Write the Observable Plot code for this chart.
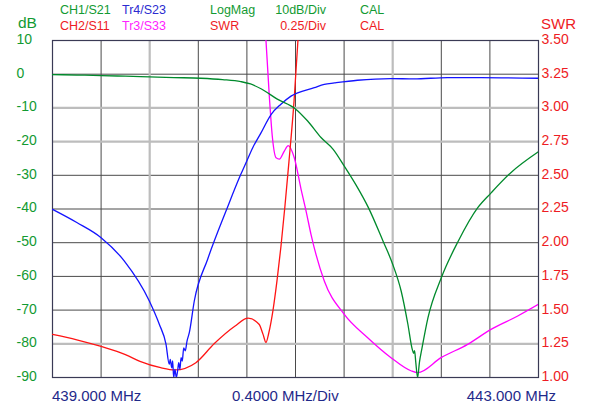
<!DOCTYPE html>
<html>
<head>
<meta charset="utf-8">
<script src="https://cdn.jsdelivr.net/npm/d3@7"></script>
<script src="https://cdn.jsdelivr.net/npm/@observablehq/plot@0.6"></script>
<style>
body{margin:0;background:#fff;font-family:Arial,"Liberation Sans",sans-serif}
#wrap{position:relative;width:600px;height:405px;overflow:hidden}
#wrap svg{position:absolute;left:0;top:0}
.lab{position:absolute;line-height:1;white-space:nowrap}
</style>
</head>
<body>
<div id="wrap"></div>
<script>
// ---- data ----
const gridFreqs = [439.0, 439.4, 439.8, 440.2, 440.6, 441.0, 441.4, 441.8, 442.2, 442.6, 443.0];
const dbTicks = [10, 0, -10, -20, -30, -40, -50, -60, -70, -80, -90];
const swrTicks = [3.50, 3.25, 3.00, 2.75, 2.50, 2.25, 2.00, 1.75, 1.50, 1.25, 1.00];
const headerRow1 = ["CH1/S21", "Tr4/S23", "LogMag", "10dB/Div", "CAL"];
const headerRow2 = ["CH2/S11", "Tr3/S33", "SWR", "0.25/Div", "CAL"];
const leftUnit = "dB";
const rightUnit = "SWR";
const bottomLabels = ["439.000 MHz", "0.4000 MHz/Div", "443.000 MHz"];

// CH1/S21 (dB)
const s21Freq = [439.0, 439.2, 439.4, 439.6, 439.8, 440.0, 440.22, 440.4, 440.55, 440.63, 440.72, 440.85, 441.0, 441.1, 441.21, 441.31, 441.4, 441.5, 441.6, 441.72, 441.8, 441.87, 441.925, 441.96, 441.972, 441.98, 441.99, 442.005, 442.02, 442.04, 442.09, 442.2, 442.34, 442.5, 442.61, 442.77, 443.0];
const s21dB   = [-0.1, -0.25, -0.4, -0.6, -0.8, -1.0, -1.2, -1.6, -2.2, -2.9, -4.4, -7.4, -10.3, -13.9, -18.8, -22.3, -27.2, -33.0, -39.6, -49.5, -56.4, -64.4, -74.2, -81.5, -82.8, -82.0, -85.5, -90, -85.5, -81.5, -72.3, -60.4, -49.5, -39.6, -35.2, -29.3, -23.0];

// Tr4/S23 (dB)
const s23Freq = [439.0, 439.2, 439.4, 439.59, 439.797, 439.879, 439.934, 439.961, 439.969, 439.981, 439.989, 439.997, 440.008, 440.019, 440.030, 440.039, 440.049, 440.058, 440.068, 440.080, 440.093, 440.107, 440.126, 440.167, 440.277, 440.428, 440.55, 440.59, 440.648, 440.716, 440.8, 440.88, 440.963, 441.155, 441.237, 441.32, 441.51, 441.786, 441.975, 442.25, 442.527, 443.0];
const s23dB   = [-40.1, -44.0, -48.5, -55.4, -67.3, -74.2, -80.1, -86.1, -84.6, -87.1, -85.1, -90, -87.6, -90, -88.0, -85.6, -87.6, -84.1, -85.1, -81.2, -82.1, -79.2, -76.7, -67.3, -54.9, -40.6, -29.7, -26.5, -21.8, -17.4, -11.9, -8.9, -6.5, -4.0, -3.0, -2.6, -1.8, -1.3, -1.4, -1.0, -1.0, -1.2];

// CH2/S11 (SWR)
const s11Freq = [439.0, 439.2, 439.4, 439.6, 439.72, 439.89, 440.01, 440.18, 440.33, 440.5, 440.61, 440.7, 440.733, 440.757, 440.78, 440.815, 440.848, 440.88, 440.913, 440.946, 440.988, 441.02, 441.045];
const s11SWR  = [1.32, 1.28, 1.23, 1.17, 1.12, 1.073, 1.056, 1.11, 1.25, 1.38, 1.44, 1.395, 1.32, 1.26, 1.33, 1.50, 1.72, 1.97, 2.27, 2.60, 3.05, 3.50, 3.80];

// Tr3/S33 (SWR)
const s33Freq = [440.72, 440.757, 440.785, 440.81, 440.84, 440.867, 440.908, 440.94, 440.99, 441.045, 441.087, 441.128, 441.237, 441.40, 441.594, 441.786, 441.95, 442.006, 442.198, 442.417, 442.609, 442.829, 443.0];
const s33SWR  = [4.20, 3.50, 3.08, 2.78, 2.63, 2.62, 2.68, 2.72, 2.63, 2.40, 2.235, 2.06, 1.716, 1.47, 1.295, 1.147, 1.05, 1.036, 1.147, 1.246, 1.357, 1.456, 1.543];

// ---- helpers ----
const swrToDb = s => -90 + (s - 1) * 40;   // maps right axis onto left scale
const GREEN_T = "#129a32", RED_T = "#ee1c24", BLUE_T = "#2b2bd0", MAG_T = "#ff22ff", NAVY_T = "#1f2a8a";
const dbRows = (f, v) => f.map((x, i) => ({f: x, v: v[i]}));
const swrRows = (f, v) => f.map((x, i) => ({f: x, v: swrToDb(v[i])}));
const emphY = d => d === -10 || d === -20 || d === -80;
const emphX = d => Math.abs(d - 439.8) < 1e-6 || Math.abs(d - 441.8) < 1e-6;

const chart = Plot.plot({
  width: 600, height: 405,
  marginTop: 40, marginBottom: 28, marginLeft: 52, marginRight: 62,
  style: {background: "transparent", fontFamily: "Arial, 'Liberation Sans', sans-serif"},
  x: {domain: [439, 443], axis: null},
  y: {domain: [-90, 10], axis: null},
  marks: [
    Plot.ruleY(dbTicks.filter(d => !emphY(d)), {stroke: "#4a4a4a", strokeWidth: 1}),
    Plot.ruleX(gridFreqs.filter(d => !emphX(d)), {stroke: "#4a4a4a", strokeWidth: 1}),
    Plot.ruleY(dbTicks.filter(emphY), {stroke: "#bdbdbd", strokeWidth: 2.2}),
    Plot.ruleX(gridFreqs.filter(emphX), {stroke: "#bdbdbd", strokeWidth: 2.2}),
    Plot.frame({stroke: "#3a3a55", strokeWidth: 1.2}),
    Plot.line(swrRows(s33Freq, s33SWR), {x: "f", y: "v", stroke: "#ff00ff", strokeWidth: 1.3, curve: "monotone-x", clip: true}),
    Plot.line(swrRows(s11Freq, s11SWR), {x: "f", y: "v", stroke: "#ff1414", strokeWidth: 1.3, curve: "monotone-x", clip: true}),
    Plot.line(dbRows(s23Freq, s23dB), {x: "f", y: "v", stroke: "#1414ff", strokeWidth: 1.3, curve: "monotone-x", clip: true}),
    Plot.line(dbRows(s21Freq, s21dB), {x: "f", y: "v", stroke: "#008a2c", strokeWidth: 1.3, curve: "monotone-x", clip: true}),
    Plot.text(dbTicks, {y: d => d, text: d => String(d), frameAnchor: "left", dx: -36, dy: -1, textAnchor: "start", fill: GREEN_T, fontSize: 14}),
    Plot.text(swrTicks, {y: d => swrToDb(d), text: d => d.toFixed(2), frameAnchor: "right", dx: 3, dy: -1, textAnchor: "start", fill: RED_T, fontSize: 14})
  ]
});

const wrap = document.getElementById("wrap");
wrap.appendChild(chart);

function place(text, x, baseline, size, color, anchor) {
  const el = document.createElement("div");
  el.className = "lab";
  el.textContent = text;
  el.style.fontSize = size + "px";
  el.style.color = color;
  el.style.top = (baseline - 0.8465 * size) + "px";
  if (anchor === "end") { el.style.right = (600 - x) + "px"; }
  else if (anchor === "middle") { el.style.left = x + "px"; el.style.transform = "translateX(-50%)"; }
  else { el.style.left = x + "px"; }
  wrap.appendChild(el);
}

const row1Colors = [GREEN_T, BLUE_T, GREEN_T, GREEN_T, GREEN_T];
const row2Colors = [RED_T, MAG_T, RED_T, RED_T, RED_T];
const colX = [60, 122, 210, 326, 360];
const colAnchor = ["start", "start", "start", "end", "start"];
headerRow1.forEach((t, i) => place(t, colX[i], 14.5, 12.5, row1Colors[i], colAnchor[i]));
headerRow2.forEach((t, i) => place(t, colX[i], 30.5, 12.5, row2Colors[i], colAnchor[i]));
place(leftUnit, 18, 28.5, 15.5, GREEN_T, "start");
place(rightUnit, 541, 28.5, 15, RED_T, "start");
place(bottomLabels[0], 52, 401, 15, NAVY_T, "start");
place(bottomLabels[1], 232, 401, 15, NAVY_T, "start");
place(bottomLabels[2], 556, 401, 15, NAVY_T, "end");
</script>
</body>
</html>
